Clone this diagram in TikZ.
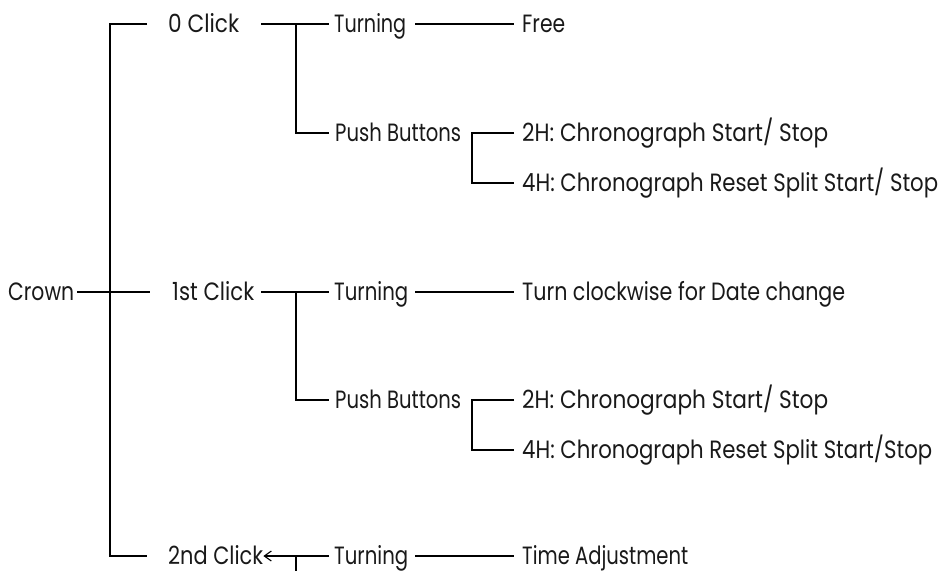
\documentclass[tikz,border=0pt]{standalone}
\usepackage{fontspec}
\setmainfont{Poppins}
\usetikzlibrary{arrows.meta}
\newcommand\fitw[2]{\resizebox{#1pt}{\height}{#2}}
\tikzset{
  lbl/.style={anchor=west, inner sep=0pt, text height=16pt, text depth=0pt,
    text=black!90, font=\fontsize{25}{28}\selectfont},
  conn/.style={draw=black, line width=1.25pt},
}
\begin{document}
\begin{tikzpicture}[x=1pt,y=-1pt]
\useasboundingbox (0,0) rectangle (939,571);
% nodes
\node[lbl] (crown) at (8,292) {\fitw{66}{Crown}};
\node[lbl] (c0) at (168,24) {\fitw{71}{0 Click}};
\node[lbl] (c1) at (172,292) {\fitw{82}{1st Click}};
\node[lbl] (c2) at (168,556) {\fitw{95}{2nd Click}};
\node[lbl] (t0) at (334,24) {\fitw{72}{Turning}};
\node[lbl] (pb0) at (335,133) {\fitw{126}{Push Buttons}};
\node[lbl] (free) at (522,24) {\fitw{43}{Free}};
\node[lbl] (h20) at (522,133) {\fitw{306}{2H: Chronograph Start/ Stop}};
\node[lbl] (h40) at (522,183) {\fitw{416}{4H: Chronograph Reset Split Start/ Stop}};
\node[lbl] (t1) at (334,292) {\fitw{74}{Turning}};
\node[lbl] (date) at (522,292) {\fitw{323}{Turn clockwise for Date change}};
\node[lbl] (pb1) at (335,400) {\fitw{126}{Push Buttons}};
\node[lbl] (h21) at (522,400) {\fitw{306}{2H: Chronograph Start/ Stop}};
\node[lbl] (h41) at (522,450) {\fitw{410}{4H: Chronograph Reset Split Start/Stop}};
\node[lbl] (t2) at (334,556) {\fitw{74}{Turning}};
\node[lbl] (time) at (522,556) {\fitw{166}{Time Adjustment}};
% branch coordinates
\coordinate (trunk) at (110,0);
\coordinate (br) at (296,0);
\coordinate (brb) at (472,0);
\coordinate (tick) at (296,571);
% trunk
\draw[conn] ([xshift=-21pt]c0.west) -- (c0.west -| trunk) -- (c2.west -| trunk) -- ([xshift=-21pt]c2.west);
\draw[conn] ([xshift=3pt]crown.east) -- ([xshift=-22pt]c1.west);
% 0 click
\draw[conn] ([xshift=22pt]c0.east) -- ([xshift=-5pt]t0.west);
\draw[conn] (t0.west -| br) -- (pb0.west -| br) -- ([xshift=-6pt]pb0.west);
\draw[conn] ([xshift=9pt]t0.east) -- ([xshift=-8pt]free.west);
\draw[conn] ([xshift=-8pt]h20.west) -- (h20.west -| brb) -- (h40.west -| brb) -- ([xshift=-8pt]h40.west);
% 1st click
\draw[conn] ([xshift=7pt]c1.east) -- ([xshift=-5pt]t1.west);
\draw[conn] (t1.west -| br) -- (pb1.west -| br) -- ([xshift=-6pt]pb1.west);
\draw[conn] ([xshift=7pt]t1.east) -- ([xshift=-8pt]date.west);
\draw[conn] ([xshift=-8pt]h21.west) -- (h21.west -| brb) -- (h41.west -| brb) -- ([xshift=-8pt]h41.west);
% 2nd click
\draw[conn, -{Straight Barb[length=7pt,width=10pt,line width=1.1pt]}] ([xshift=-5pt]t2.west) -- (c2.east);
\draw[conn] (t2.west -| br) -- (tick);
\draw[conn] ([xshift=7pt]t2.east) -- ([xshift=-8pt]time.west);
\end{tikzpicture}
\end{document}
